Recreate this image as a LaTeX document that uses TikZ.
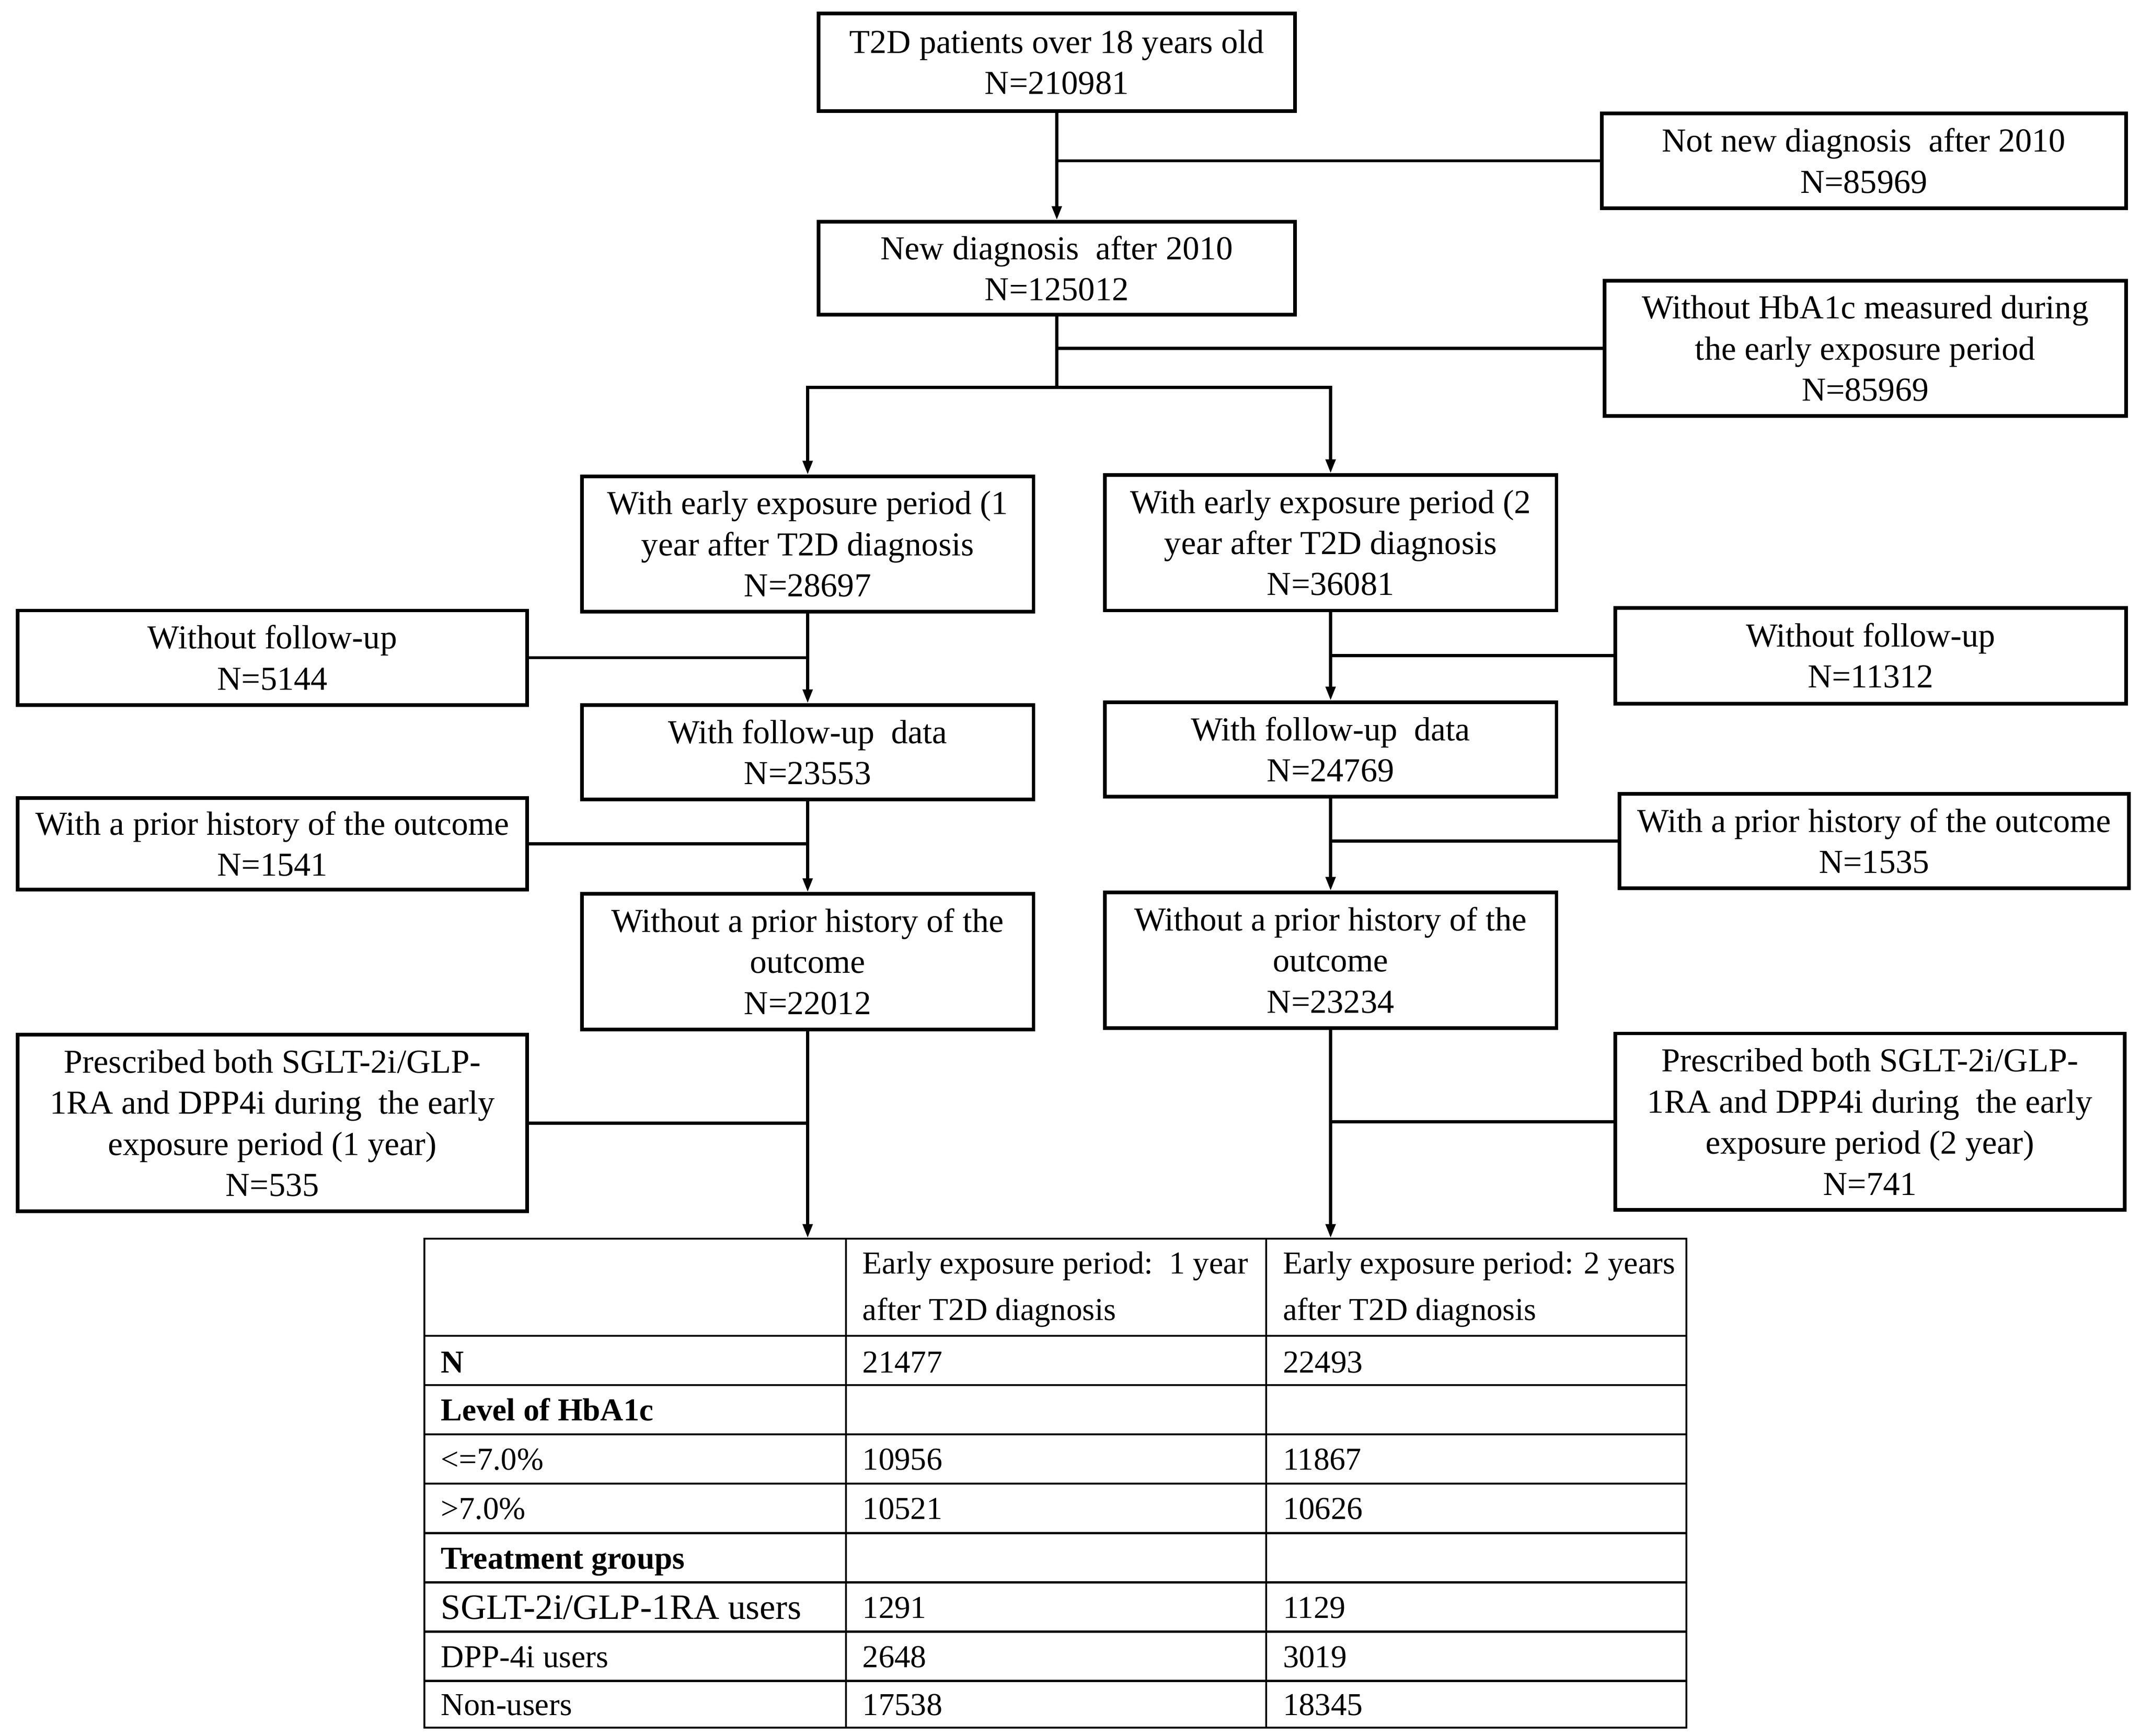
\documentclass[tikz,border=0pt]{standalone}
\usepackage{fontspec}
\setmainfont{Liberation Serif}
\usetikzlibrary{arrows.meta}
\begin{document}
\begin{tikzpicture}[x=1pt,y=-1pt,
 box/.style={draw, line width=2.7pt, align=center, inner sep=0pt, font=\fontsize{24.5}{30}\selectfont},
 conn/.style={line width=2.2pt},
 arr/.style={line width=2.2pt, -{Triangle[length=10pt,width=7pt]}},
 tline/.style={line width=1.4pt},
 cell/.style={anchor=base west, inner sep=0pt, font=\fontsize{23.3}{34}\selectfont},
 ]
\useasboundingbox (0,0) rectangle (1564,1268);
% main column boxes
\node[box, minimum width=348pt, minimum height=71pt] (b1) at (772,45.5) {T2D patients over 18 years old\\N=210981};
\node[box, minimum width=348pt, minimum height=68pt] (b2) at (772,196) {New diagnosis\ \ after 2010\\N=125012};
\node[box, minimum width=383pt, minimum height=69pt] (x1) at (1361.5,117.5) {Not new diagnosis\ \ after 2010\\N=85969};
\node[box, minimum width=381pt, minimum height=99pt] (x2) at (1362.5,254.5) {Without HbA1c measured during\\the early exposure period\\N=85969};
% left branch
\node[box, minimum width=330pt, minimum height=99pt] (L1) at (590,397.5) {With early exposure period (1\\year after T2D diagnosis\\N=28697};
\node[box, minimum width=330pt, minimum height=69pt] (L2) at (590,549.5) {With follow-up\ \ data\\N=23553};
\node[box, minimum width=330pt, minimum height=99pt] (L3) at (590,702.5) {Without a prior history of the\\outcome\\N=22012};
\node[box, minimum width=372pt, minimum height=69pt] (xl1) at (199,480.5) {Without follow-up\\N=5144};
\node[box, minimum width=372pt, minimum height=67pt] (xl2) at (199,616.5) {With a prior history of the outcome\\N=1541};
\node[box, minimum width=372pt, minimum height=129pt] (xl3) at (199,820.5) {Prescribed both SGLT-2i/GLP-\\1RA and DPP4i during\ \ the early\\exposure period (1 year)\\N=535};
% right branch
\node[box, minimum width=330pt, minimum height=99pt] (R1) at (972,396.5) {With early exposure period (2\\year after T2D diagnosis\\N=36081};
\node[box, minimum width=330pt, minimum height=69pt] (R2) at (972,547.5) {With follow-up\ \ data\\N=24769};
\node[box, minimum width=330pt, minimum height=99pt] (R3) at (972,701.5) {Without a prior history of the\\outcome\\N=23234};
\node[box, minimum width=373pt, minimum height=70pt] (xr1) at (1366.5,479) {Without follow-up\\N=11312};
\node[box, minimum width=372pt, minimum height=69pt] (xr2) at (1369,614.5) {With a prior history of the outcome\\N=1535};
\node[box, minimum width=372pt, minimum height=129pt] (xr3) at (1366,819.5) {Prescribed both SGLT-2i/GLP-\\1RA and DPP4i during\ \ the early\\exposure period (2 year)\\N=741};
% table frame
\node[draw, tline, minimum width=922pt, minimum height=357pt, inner sep=0pt] (tbl) at (771,1083.5) {};
% connectors
\coordinate (split) at (772,283);
\draw[arr] (b1.south) -- (b2.north);
\draw[conn] (x1.west) -- (x1.west -| b1.south);
\draw[conn] (b2.south) -- (split);
\draw[conn] (x2.west) -- (x2.west -| b2.south);
\draw[arr] (split) -| (L1.north);
\draw[arr] (split) -| (R1.north);
\draw[arr] (L1.south) -- (L2.north);
\draw[arr] (L2.south) -- (L3.north);
\draw[arr] (L3.south) -- (L3.south |- tbl.north);
\draw[conn] (xl1.east) -- (xl1.east -| L1.south);
\draw[conn] (xl2.east) -- (xl2.east -| L2.south);
\draw[conn] (xl3.east) -- (xl3.east -| L3.south);
\draw[arr] (R1.south) -- (R2.north);
\draw[arr] (R2.south) -- (R3.north);
\draw[arr] (R3.south) -- (R3.south |- tbl.north);
\draw[conn] (xr1.west) -- (xr1.west -| R1.south);
\draw[conn] (xr2.west) -- (xr2.west -| R2.south);
\draw[conn] (xr3.west) -- (xr3.west -| R3.south);
% table grid
\draw[tline] (618,905) -- (618,1262);
\draw[tline] (925,905) -- (925,1262);
\foreach \yy in {976,1012,1048,1084,1120,1156,1192,1228}
  \draw[tline] (310,\yy) -- (1232,\yy);
% table cells
\node[cell, anchor=west, align=left] (h2) at (630,942) {Early exposure period:\ \ 1 year\\after T2D diagnosis};
\node[cell, anchor=west, align=left] (h3) at (937,942) {Early exposure period: 2 years\\after T2D diagnosis};
\node[cell, font=\fontsize{23.3}{34}\selectfont\bfseries] (r1a) at (322,1003) {N};
\node[cell] (r1b) at (630,1003) {21477};
\node[cell] (r1c) at (937,1003) {22493};
\node[cell, font=\fontsize{23.3}{34}\selectfont\bfseries] (r2a) at (322,1038) {Level of HbA1c};
\node[cell] (r3a) at (322,1074) {<=7.0\%};
\node[cell] (r3b) at (630,1074) {10956};
\node[cell] (r3c) at (937,1074) {11867};
\node[cell] (r4a) at (322,1110) {>7.0\%};
\node[cell] (r4b) at (630,1110) {10521};
\node[cell] (r4c) at (937,1110) {10626};
\node[cell, font=\fontsize{23.3}{34}\selectfont\bfseries] (r5a) at (322,1146) {Treatment groups};
\node[cell, font=\fontsize{26}{34}\selectfont] (r6a) at (322,1183) {SGLT-2i/GLP-1RA users};
\node[cell] (r6b) at (630,1182) {1291};
\node[cell] (r6c) at (937,1182) {1129};
\node[cell] (r7a) at (322,1218) {DPP-4i users};
\node[cell] (r7b) at (630,1218) {2648};
\node[cell] (r7c) at (937,1218) {3019};
\node[cell] (r8a) at (322,1253) {Non-users};
\node[cell] (r8b) at (630,1253) {17538};
\node[cell] (r8c) at (937,1253) {18345};
\end{tikzpicture}
\end{document}
